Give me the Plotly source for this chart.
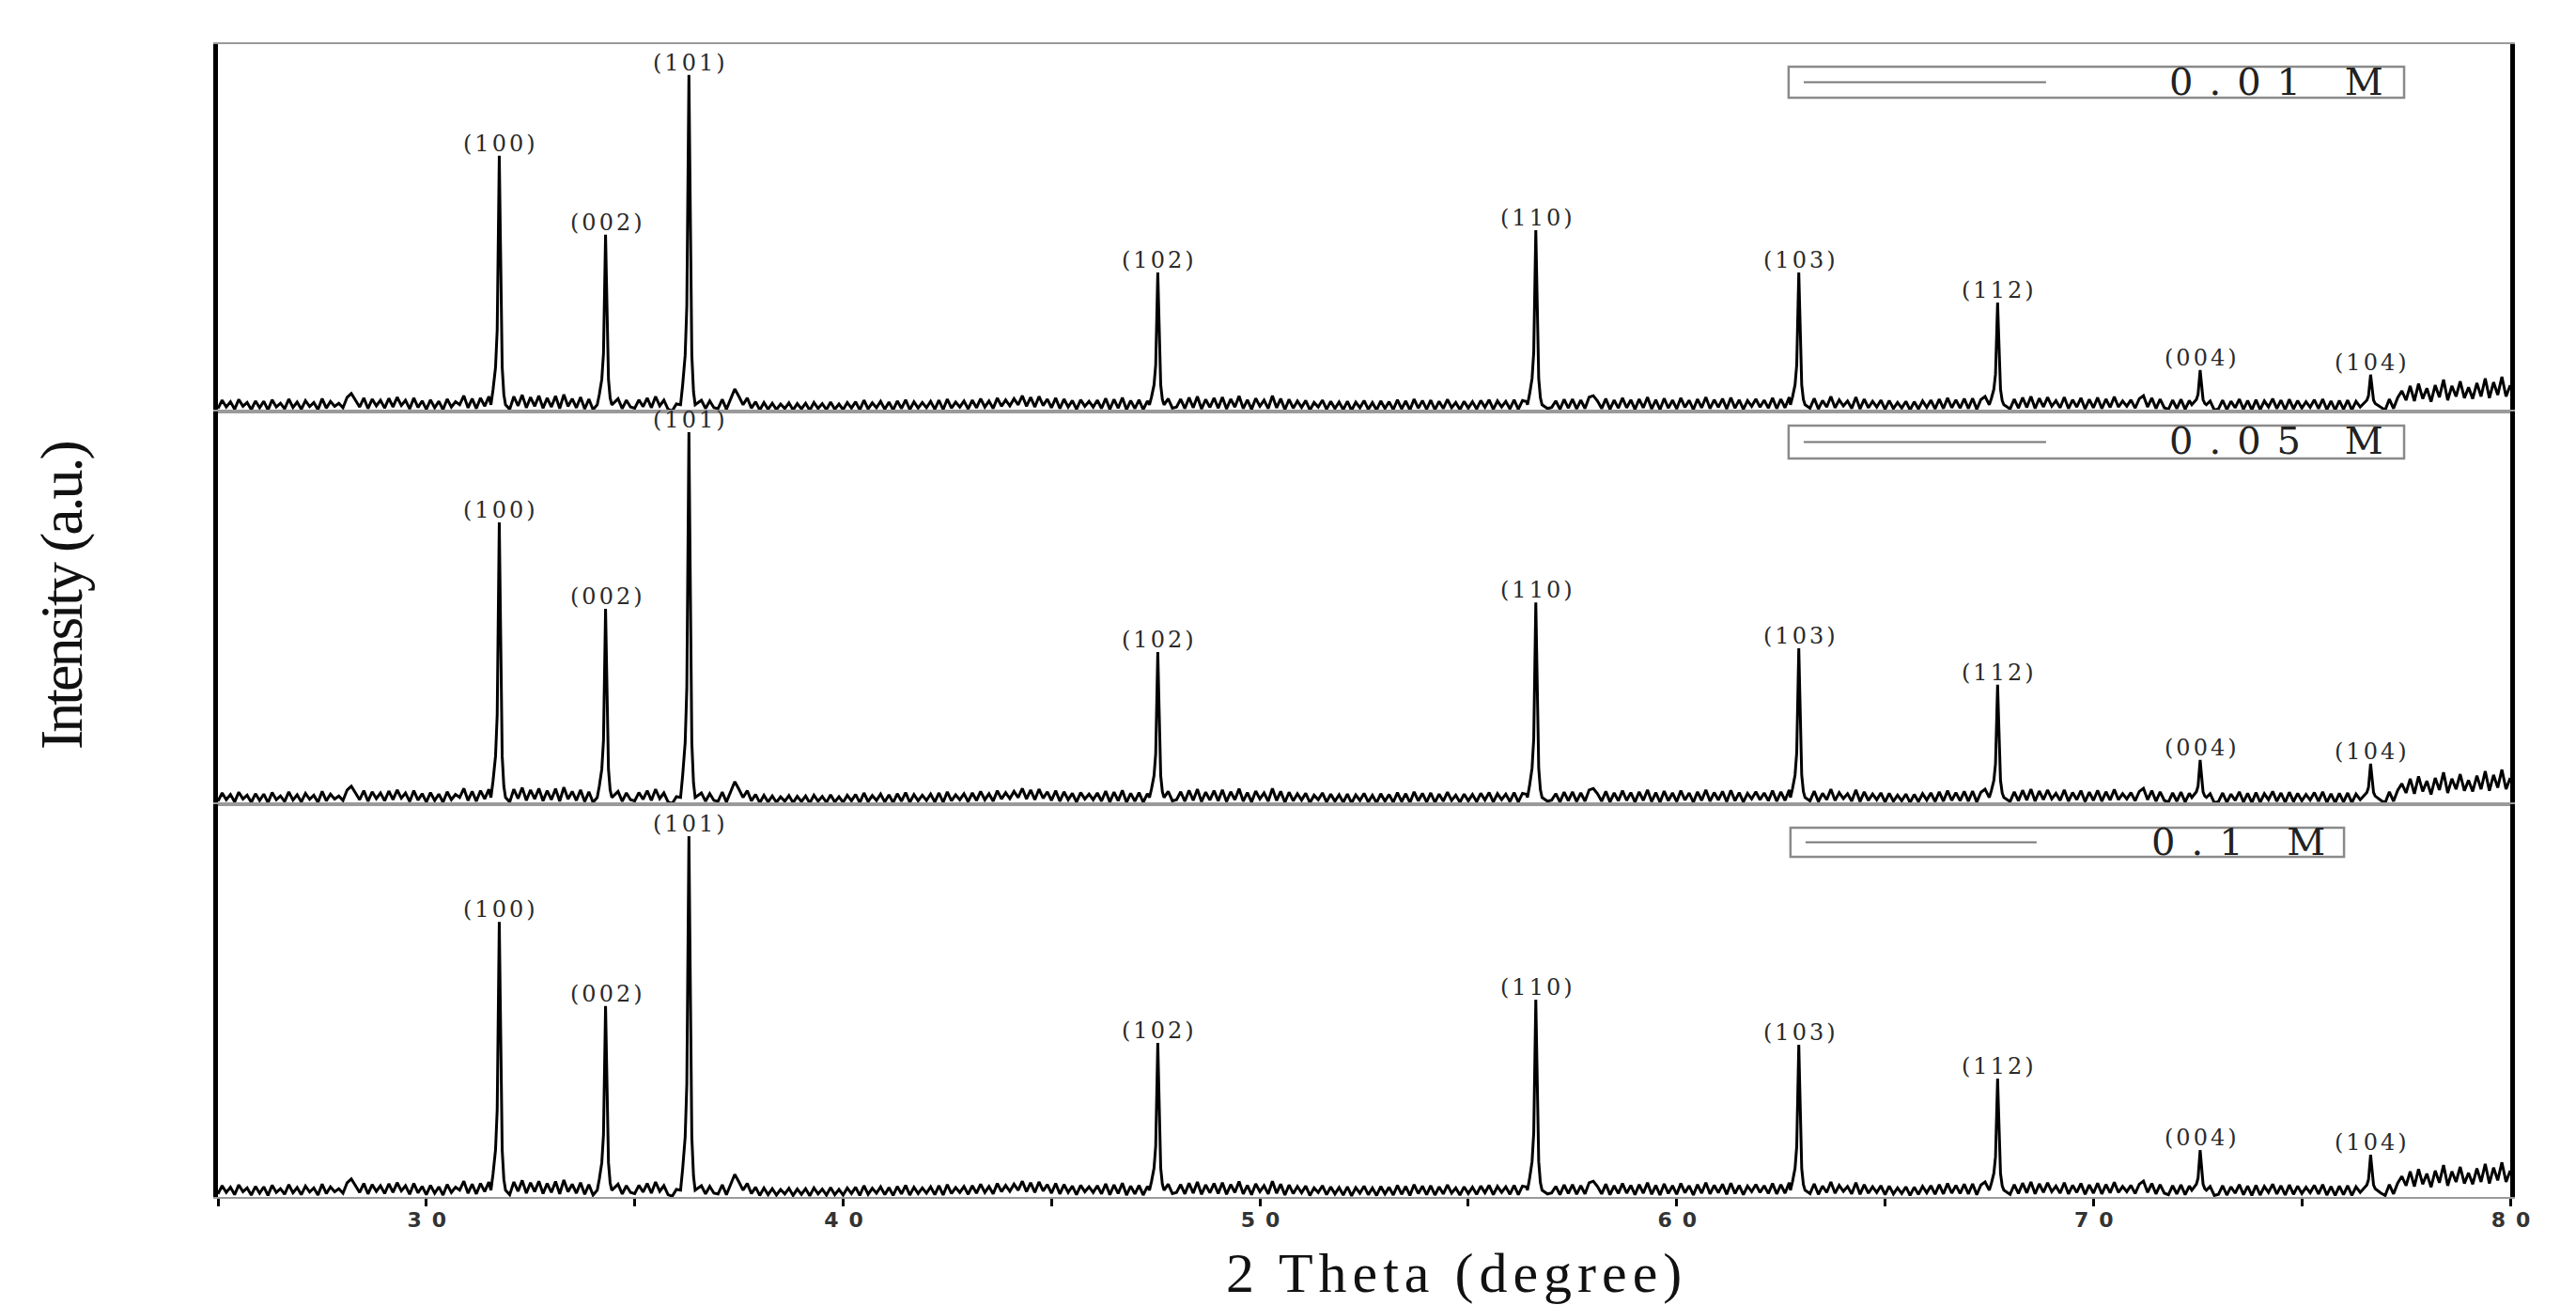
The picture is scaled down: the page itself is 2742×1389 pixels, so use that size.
import numpy as np
import plotly.graph_objects as go
from plotly.subplots import make_subplots

# ---------------- data ----------------
TWO_THETA_START = 25.0
TWO_THETA_STEP = 0.1

# background counts every 0.1 degree from 25.0 to 80.0 (same trace shape in all three patterns)
BACKGROUND = [
    8, 30, 12, 26, 6, 32, 14, 24, 5, 28,        # 25
    10, 27, 4, 31, 12, 22, 7, 33, 11, 25,       # 26
    6, 29, 13, 24, 5, 34, 9, 27, 14, 22,        # 27
    10, 38, 48, 30, 12, 36, 8, 33, 15, 30,      # 28
    9, 35, 12, 38, 16, 30, 7, 36, 11, 28,       # 29
    6, 31, 10, 27, 5, 33, 12, 26, 18, 42,       # 30
    10, 34, 8, 36, 14, 40, 22, 20, 18, 8,       # 31
    6, 40, 15, 44, 10, 38, 14, 42, 9, 36,       # 32
    12, 41, 8, 45, 14, 34, 10, 38, 7, 33,       # 33
    5, 30, 26, 30, 20, 12, 34, 8, 30, 12,       # 34
    9, 31, 13, 36, 10, 40, 15, 30, 6, 2,        # 35
    20, 34, 40, 36, 30, 28, 30, 8, 28, 10,      # 36
    8, 32, 6, 35, 60, 40, 18, 36, 9, 26,        # 37
    4, 24, 6, 22, 5, 20, 8, 23, 4, 21,          # 38
    7, 22, 3, 24, 8, 21, 5, 25, 6, 20,          # 39
    5, 24, 9, 26, 4, 30, 7, 23, 10, 27,         # 40
    6, 25, 4, 28, 8, 31, 5, 26, 9, 24,          # 41
    10, 27, 6, 30, 5, 33, 9, 25, 12, 28,        # 42
    7, 30, 10, 34, 12, 28, 8, 36, 14, 31,       # 43
    15, 34, 18, 42, 14, 38, 12, 40, 16, 33,     # 44
    10, 36, 8, 33, 12, 29, 6, 31, 14, 27,       # 45
    12, 30, 8, 35, 6, 32, 9, 37, 5, 29,         # 46
    8, 31, 5, 28, 30, 40, 18, 6, 34, 9,         # 47
    12, 33, 8, 37, 10, 40, 7, 32, 11, 36,       # 48
    9, 38, 7, 33, 12, 41, 8, 31, 6, 35,         # 49
    14, 30, 8, 42, 10, 34, 5, 32, 9, 28,        # 50
    11, 29, 4, 24, 12, 30, 6, 27, 8, 25,        # 51
    5, 27, 3, 25, 10, 29, 6, 24, 4, 28,         # 52
    8, 26, 5, 31, 7, 28, 4, 33, 9, 29,          # 53
    6, 30, 5, 27, 8, 32, 10, 24, 5, 27,         # 54
    9, 26, 7, 29, 11, 31, 6, 28, 12, 27,        # 55
    7, 31, 6, 29, 26, 35, 40, 6, 30, 8,         # 56
    11, 28, 6, 32, 9, 33, 7, 30, 8, 38,         # 57
    42, 28, 8, 34, 6, 30, 9, 36, 10, 31,        # 58
    6, 33, 10, 38, 7, 31, 5, 35, 9, 30,         # 59
    7, 36, 11, 30, 5, 33, 10, 38, 8, 31,        # 60
    11, 34, 7, 37, 9, 31, 6, 29, 14, 33,        # 61
    12, 30, 9, 36, 8, 33, 10, 38, 35, 45,       # 62
    6, 31, 9, 35, 7, 29, 12, 40, 10, 31,        # 63
    15, 28, 8, 38, 7, 33, 10, 27, 12, 30,       # 64
    6, 29, 8, 24, 9, 27, 4, 26, 7, 28,          # 65
    11, 30, 7, 33, 8, 36, 10, 31, 9, 34,        # 66
    8, 35, 6, 32, 40, 10, 30, 25, 6, 30,        # 67
    7, 33, 9, 37, 11, 40, 8, 35, 12, 38,        # 68
    14, 29, 10, 38, 8, 31, 12, 36, 7, 32,       # 69
    10, 37, 8, 33, 11, 39, 12, 28, 14, 31,      # 70
    9, 34, 42, 12, 36, 8, 33, 10, 6, 30,        # 71
    8, 32, 6, 29, 7, 27, 22, 5, 28, 4,          # 72
    7, 30, 5, 27, 10, 33, 6, 29, 4, 31,         # 73
    5, 28, 12, 34, 8, 30, 5, 32, 7, 29,         # 74
    9, 26, 11, 31, 8, 33, 5, 28, 4, 29,         # 75
    6, 30, 4, 27, 12, 31, 22, 8, 25, 10,        # 76
    4, 33, 8, 37, 55, 30, 68, 28, 74, 34,       # 77
    62, 26, 70, 38, 85, 30, 68, 40, 80, 36,     # 78
    64, 34, 76, 40, 88, 36, 78, 44, 92, 40,     # 79
    70,                                         # 80
]

PEAK_LABELS = ["(100)", "(002)", "(101)", "(102)", "(110)", "(103)", "(112)", "(004)", "(104)"]
PEAK_POS = [31.75, 34.30, 36.30, 47.55, 56.62, 62.93, 67.70, 72.56, 76.65]

SAMPLES = ["0.01 M", "0.05 M", "0.1 M"]
PEAK_HEIGHTS = {
    "0.01 M": [680, 470, 895, 370, 482, 370, 290, 110, 98],
    "0.05 M": [750, 520, 990, 405, 537, 415, 318, 118, 108],
    "0.1 M": [732, 508, 960, 410, 525, 405, 315, 125, 112],
}

# common stepped peak profile (offset in degrees, fraction of peak height)
PROFILE_DX = [-0.20, -0.15, -0.09, -0.05, -0.025, 0.0, 0.02, 0.045, 0.07, 0.11, 0.15]
PROFILE_FRAC = [0.0, 0.06, 0.15, 0.30, 0.80, 1.0, 0.75, 0.30, 0.15, 0.04, 0.0]
BASE_LEVEL = 18

TICK_VALUES = [30, 40, 50, 60, 70, 80]
TICK_LABELS = ["30", "40", "50", "60", "70", "80"]

X_TITLE = "2 Theta (degree)"
Y_TITLE = "Intensity (a.u.)"


def build_pattern(heights):
    bg = np.array(BACKGROUND, dtype=float)
    x_bg = TWO_THETA_START + TWO_THETA_STEP * np.arange(len(bg))
    keep = np.ones(len(bg), dtype=bool)
    for c in PEAK_POS:
        keep &= np.abs(x_bg - c) > 0.205
    xs = list(x_bg[keep])
    ys = list(bg[keep])
    for c, h in zip(PEAK_POS, heights):
        for dx, f in zip(PROFILE_DX, PROFILE_FRAC):
            xs.append(c + dx)
            ys.append(BASE_LEVEL + f * (h - BASE_LEVEL))
    order = np.argsort(xs, kind="stable")
    return np.array(xs)[order], np.array(ys)[order]


# ---------------- figure ----------------
fig = make_subplots(rows=3, cols=1, shared_xaxes=True, vertical_spacing=0,
                    row_heights=[391, 418, 418])

Y_RANGES = [[0, 977], [0, 1045], [0, 1045]]

for i, s in enumerate(SAMPLES):
    x, y = build_pattern(PEAK_HEIGHTS[s])
    fig.add_trace(go.Scatter(x=x, y=y, mode="lines", name=s,
                             line=dict(color="black", width=3),
                             showlegend=False), row=i + 1, col=1)

LABEL_FONT = dict(family="DejaVu Serif", size=24, color="#2a2a2a")
for i, s in enumerate(SAMPLES):
    yref = "y" if i == 0 else f"y{i + 1}"
    xref = "x" if i == 0 else f"x{i + 1}"
    for lab, pos, h in zip(PEAK_LABELS, PEAK_POS, PEAK_HEIGHTS[s]):
        fig.add_annotation(x=pos, y=h, xref=xref, yref=yref,
                           text=f'<span style="letter-spacing:3px">{lab}</span>',
                           showarrow=False, xanchor="center", yanchor="bottom",
                           xshift=2, yshift=-3, font=LABEL_FONT)

# legend boxes (one per panel)
LEG_BOXES = [
    dict(x0=0.6852, x1=0.9537, y0=0.9535, y1=0.9804, lx1=0.7975, tx=0.9455),
    dict(x0=0.6852, x1=0.9537, y0=0.6406, y1=0.6691, lx1=0.7975, tx=0.9455),
    dict(x0=0.6860, x1=0.9275, y0=0.2950, y1=0.3203, lx1=0.7934, tx=0.9200),
]
for s, b in zip(SAMPLES, LEG_BOXES):
    fig.add_shape(type="rect", xref="paper", yref="paper",
                  x0=b["x0"], x1=b["x1"], y0=b["y0"], y1=b["y1"],
                  line=dict(color="#8a8a8a", width=2.5), fillcolor="rgba(0,0,0,0)")
    ym = (b["y0"] + b["y1"]) / 2
    fig.add_shape(type="line", xref="paper", yref="paper",
                  x0=b["x0"] + 0.0066, x1=b["lx1"], y0=ym, y1=ym,
                  line=dict(color="#777777", width=2))
    fig.add_annotation(x=b["tx"], y=ym, xref="paper", yref="paper",
                       text=f'<span style="letter-spacing:17px">{s}</span>',
                       showarrow=False, xanchor="right", yanchor="middle",
                       xshift=17, yshift=1,
                       font=dict(family="DejaVu Serif", size=40, color="#222222"))

# axis titles
fig.add_annotation(x=0.539, y=-0.066, xref="paper", yref="paper",
                   text=f'<span style="letter-spacing:6px">{X_TITLE}</span>',
                   showarrow=False, xanchor="center", yanchor="middle", xshift=3,
                   font=dict(family="Liberation Serif", size=60, color="#111111"))
fig.add_annotation(x=-0.068, y=0.5216, xref="paper", yref="paper",
                   text=f'<span style="letter-spacing:-3px">{Y_TITLE}</span>',
                   showarrow=False, textangle=-90, xanchor="center", yanchor="middle",
                   font=dict(family="Liberation Serif", size=64, color="#111111"))

for i in range(3):
    xa = "xaxis" if i == 0 else f"xaxis{i + 1}"
    ya = "yaxis" if i == 0 else f"yaxis{i + 1}"
    fig.layout[xa].update(range=[25, 80], showline=True, mirror=True,
                          linecolor="#9a9a9a", linewidth=2, showgrid=False,
                          zeroline=False, ticks="", showticklabels=False)
    fig.layout[ya].update(range=Y_RANGES[i], showline=True, mirror=True,
                          linecolor="black", linewidth=5, showgrid=False,
                          zeroline=False, ticks="", showticklabels=False)

fig.layout["xaxis3"].update(
    ticks="outside", ticklen=8, tickwidth=3, tickcolor="black",
    showticklabels=True, tickmode="array", tickvals=TICK_VALUES,
    ticktext=[f'<span style="letter-spacing:11px">{t}</span>' for t in TICK_LABELS],
    ticklabelshift=6, ticklabelstandoff=-4,
    tickfont=dict(family="DejaVu Sans", size=22, color="#333333", weight="bold"),
    minor=dict(dtick=5, tick0=25, ticks="outside", ticklen=8, tickwidth=3, tickcolor="black"),
)

fig.update_layout(
    width=2742, height=1389,
    margin=dict(l=224, r=78, t=39, b=123),
    paper_bgcolor="white", plot_bgcolor="white",
    showlegend=False,
)

fig.write_html("out.html")
